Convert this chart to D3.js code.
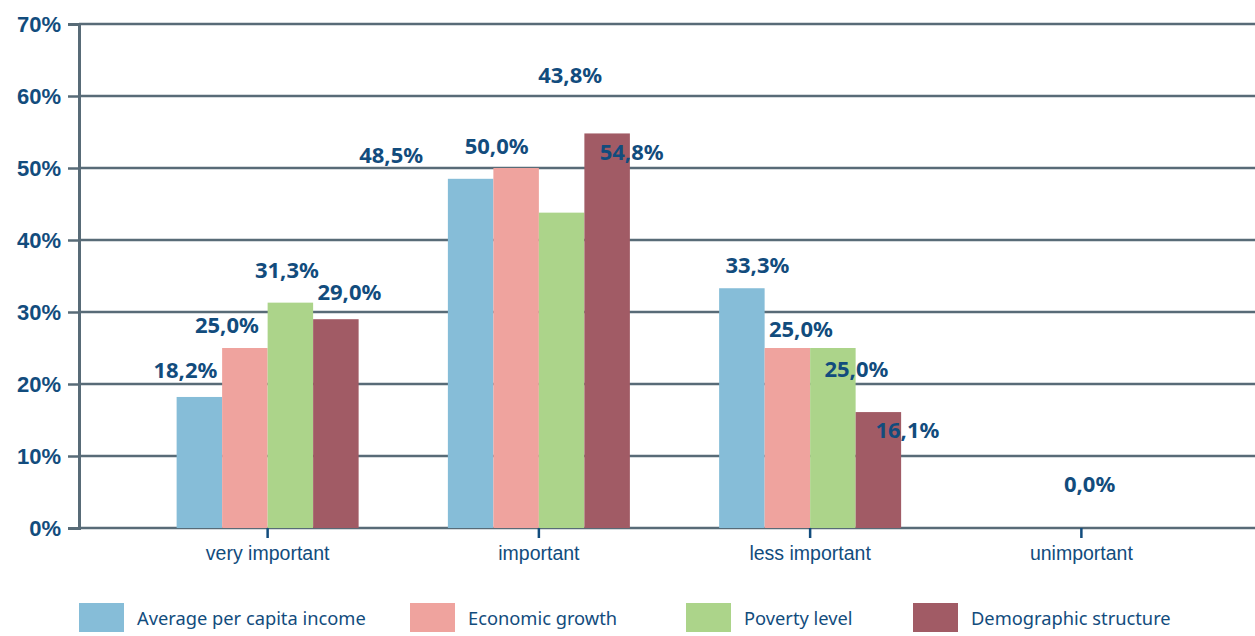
<!DOCTYPE html>
<html>
<head>
<meta charset="utf-8">
<script src="https://cdn.jsdelivr.net/npm/d3@7"></script>
<style>
  body { margin: 0; background: #fff; }
  svg { display: block; font-family: "Noto Sans", sans-serif; }
</style>
</head>
<body>
<svg width="1255" height="636"></svg>
<script>
// data
var categories = ["very important", "important", "less important", "unimportant"];
var series = ["Average per capita income", "Economic growth", "Poverty level", "Demographic structure"];
var income      = [18.2, 48.5, 33.3, 0.0];
var growth      = [25.0, 50.0, 25.0, 0.0];
var poverty     = [31.3, 43.8, 25.0, 0.0];
var demographic = [29.0, 54.8, 16.1, 0.0];
var yTicks = [0, 10, 20, 30, 40, 50, 60, 70];

var values = [income, growth, poverty, demographic];
var colors = ["#86bdd8", "#efa39e", "#acd48a", "#a15b65"];

// the labels in the original sit a bit off their bars: nudge [dx, dy] per series x category
var labelNudge = [
  [[-14, -19], [-79.5, -16], [15.5, -15], [76.5, -36]],
  [[-18, -15], [-19.5, -14], [13.5, -11], null],
  [[-3.5, -25], [8.5, -130], [23.5, 29], null],
  [[13.5, -19], [24.5, 27], [29, 26], null]
];

var chartW = 1255;
var plotLeft = 79, plotTop = 24, plotBottom = 528;
var textColor = "#124c7d", gridColor = "#586b77";

var svg = d3.select("svg");

var y = d3.scaleLinear().domain([0, 70]).range([plotBottom, plotTop]);
var x0 = d3.scaleBand().domain(categories).range([132, 1217]);
var groupW = 182;
var x1 = d3.scaleBand().domain(series).range([0, groupW]);
var groupOffset = (x0.bandwidth() - groupW) / 2;

// gridlines
svg.append("g")
  .selectAll("line")
  .data(yTicks)
  .enter()
  .append("line")
    .attr("x1", plotLeft)
    .attr("x2", chartW)
    .attr("y1", d => y(d))
    .attr("y2", d => y(d))
    .attr("stroke", gridColor)
    .attr("stroke-width", 2.5);

// y axis
var yAxis = svg.append("g")
  .attr("transform", "translate(" + plotLeft + ",0)")
  .call(d3.axisLeft(y).tickValues(yTicks).tickSize(11).tickPadding(7).tickFormat(d => d + "%"));
yAxis.select(".domain").attr("stroke", gridColor).attr("stroke-width", 3);
yAxis.selectAll(".tick line").attr("stroke", gridColor).attr("stroke-width", 2.5);
yAxis.selectAll(".tick text")
  .attr("fill", textColor)
  .style("font-size", "22px")
  .style("font-weight", "bold");

// bars
var groups = svg.append("g")
  .selectAll("g")
  .data(categories)
  .enter()
  .append("g")
    .attr("transform", d => "translate(" + (x0(d) + groupOffset) + ",0)");

groups.selectAll("rect")
  .data((c, ci) => series.map((s, si) => ({s: s, si: si, v: values[si][ci]})))
  .enter()
  .append("rect")
    .attr("x", d => x1(d.s))
    .attr("width", x1.bandwidth())
    .attr("y", d => y(d.v))
    .attr("height", d => plotBottom - y(d.v))
    .attr("fill", d => colors[d.si]);

// x axis ticks and labels
var xAxis = svg.append("g")
  .attr("transform", "translate(0," + plotBottom + ")")
  .call(d3.axisBottom(x0).tickSize(10).tickPadding(8));
xAxis.select(".domain").remove();
xAxis.selectAll(".tick line").attr("stroke", textColor).attr("stroke-width", 2.5);
xAxis.selectAll(".tick text")
  .attr("fill", textColor)
  .style("font-size", "19.5px");

// value labels
groups.selectAll("text.val")
  .data((c, ci) => series.map((s, si) => ({s: s, si: si, v: values[si][ci], n: labelNudge[si][ci]}))
                         .filter(d => d.n))
  .enter()
  .append("text")
    .attr("class", "val")
    .attr("x", d => x1(d.s) + x1.bandwidth() / 2 + d.n[0])
    .attr("y", d => y(d.v) + d.n[1])
    .attr("text-anchor", "middle")
    .attr("fill", textColor)
    .style("font-size", "22px")
    .style("font-weight", "bold")
    .text(d => d3.format(".1f")(d.v).replace(".", ",") + "%");

// legend
var legendX = [79, 410, 686, 913];
var legend = svg.append("g")
  .selectAll("g")
  .data(series)
  .enter()
  .append("g")
    .attr("transform", (d, i) => "translate(" + legendX[i] + ",603)");
legend.append("rect")
  .attr("width", 45)
  .attr("height", 29)
  .attr("fill", (d, i) => colors[i]);
legend.append("text")
  .attr("x", 58)
  .attr("y", 22)
  .attr("fill", textColor)
  .style("font-size", "18.3px")
  .text(d => d);
</script>
</body>
</html>
